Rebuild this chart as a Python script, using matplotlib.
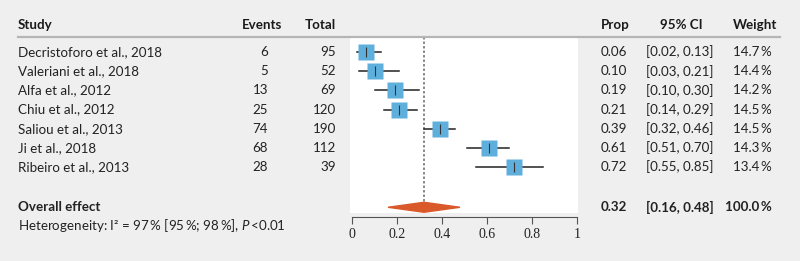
import numpy as np
import matplotlib.pyplot as plt
import matplotlib.transforms as mtransforms
from matplotlib.patches import Polygon

plt.rcParams['font.family'] = ['Lato', 'DejaVu Sans']
plt.rcParams['mathtext.fontset'] = 'custom'
plt.rcParams['mathtext.rm'] = 'Lato'
plt.rcParams['mathtext.it'] = 'Lato:italic'

# data
studies = ['Decristoforo et al., 2018', 'Valeriani et al., 2018', 'Alfa et al., 2012',
           'Chiu et al., 2012', 'Saliou et al., 2013', 'Ji et al., 2018', 'Ribeiro et al., 2013']
events = [6, 5, 13, 25, 74, 68, 28]
totals = [95, 52, 69, 120, 190, 112, 39]
prop = [0.06, 0.10, 0.19, 0.21, 0.39, 0.61, 0.72]
ci_low = [0.02, 0.03, 0.10, 0.14, 0.32, 0.51, 0.55]
ci_high = [0.13, 0.21, 0.30, 0.29, 0.46, 0.70, 0.85]
weights = [14.7, 14.4, 14.2, 14.5, 14.5, 14.3, 13.4]
overall = 0.32
overall_low = 0.16
overall_high = 0.48
xticks = [0, 0.2, 0.4, 0.6, 0.8, 1]

W, H = 800, 261
fig = plt.figure(figsize=(8, 2.61), dpi=100, facecolor='#efefef')

# forest panel, pixel box 350..578 x 37..213
ax = fig.add_axes([350 / W, 1 - 213 / H, 228 / W, 176 / H])
ax.set_facecolor('white')
ax.set_xlim((350 - 352) / 225, (578 - 352) / 225)
row_h = 19.17
ax.set_ylim((213 - 52) / row_h, (37 - 52) / row_h)
for s in ['top', 'left', 'right']:
    ax.spines[s].set_visible(False)
ax.spines['bottom'].set_position(('outward', 3))
ax.spines['bottom'].set_bounds(0, 1)
ax.spines['bottom'].set_color('#555555')
ax.set_yticks([])
ax.set_xticks(xticks)
ax.set_xticklabels(['0', '0.2', '0.4', '0.6', '0.8', '1'], family='Liberation Serif', fontsize=10)
ax.tick_params(axis='x', length=5, color='#555555', pad=3, labelcolor='#222222')

rows = np.arange(len(studies))
y_over = 8.1

# reference line
ax.plot([overall, overall], [(37 - 52) / row_h, y_over - 0.28], color='#777777', lw=1.2,
        linestyle=(0, (1.5, 1.2)), zorder=1)

for i in rows:
    ax.plot([ci_low[i], ci_high[i]], [i, i], color='#222222', lw=1.1, zorder=2)
    size = 11.5 * np.sqrt(weights[i] / 14.5)
    ax.plot(prop[i], i, marker='s', markersize=size, color='#5eafdc', mec='none', zorder=3)
    ax.plot(prop[i], i, marker='|', markersize=6.5, color='#333333', mew=0.8, zorder=4)

dh = 5 / row_h
ax.add_patch(Polygon([[overall_low, y_over], [overall, y_over - dh], [overall_high, y_over],
                      [overall, y_over + dh]], closed=True, color='#d9592a', zorder=3))

# text columns
tr = mtransforms.blended_transform_factory(fig.transFigure, ax.transData)
fs = 9.6


def px(x):
    return x / W


y_head = (25 - 52) / row_h
hk = dict(transform=tr, fontsize=fs, fontweight='bold', va='center', clip_on=False, color='#1a1a1a')
fig.text(px(18), y_head, 'Study', ha='left', **hk)
fig.text(px(282), y_head, 'Events', ha='right', **hk)
fig.text(px(336), y_head, 'Total', ha='right', **hk)
fig.text(px(601), y_head, 'Prop', ha='left', **hk)
fig.text(px(681), y_head, '95% CI', ha='center', **hk)
fig.text(px(777), y_head, 'Weight', ha='right', **hk)

# header separator
fig.add_artist(plt.Line2D([px(18), px(780)], [1 - 37 / H, 1 - 37 / H], color='#b5b5b5', lw=1.6))

tk = dict(transform=tr, fontsize=fs, va='center', clip_on=False, color='#222222')
for i in rows:
    fig.text(px(18), i, studies[i], ha='left', **tk)
    fig.text(px(268), i, str(events[i]), ha='right', **tk)
    fig.text(px(336), i, str(totals[i]), ha='right', **tk)
    fig.text(px(601), i, f'{prop[i]:.2f}', ha='left', **tk)
    fig.text(px(714), i, f'[{ci_low[i]:.2f}, {ci_high[i]:.2f}]', ha='right', **tk)
    fig.text(px(772), i, f'{weights[i]:.1f}\u2009%', ha='right', **tk)

bk = dict(tk, fontweight='bold')
fig.text(px(18), y_over, 'Overall effect', ha='left', **bk)
fig.text(px(601), y_over, f'{overall:.2f}', ha='left', **bk)
fig.text(px(714), y_over, f'[{overall_low:.2f}, {overall_high:.2f}]', ha='right', **bk)
fig.text(px(772), y_over, '100.0\u2009%', ha='right', **bk)

fig.text(px(18), (226 - 52) / row_h,
         'Heterogeneity: I² = 97\u2009% [95\u2009%; 98\u2009%], $P$\u2009<0.01',
         ha='left', **tk)

fig.savefig('out.png', dpi=100, facecolor=fig.get_facecolor())
